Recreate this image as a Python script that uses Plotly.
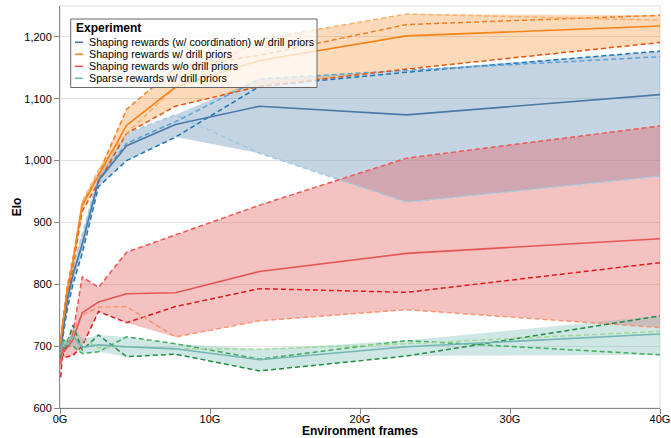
import numpy as np
import plotly.graph_objects as go

# ---------------- data ----------------
frames_g = [0.05, 0.1, 0.17, 0.29, 0.49, 0.86, 1.48, 2.57, 4.44, 7.7, 13.3, 23.1, 40.0]

experiments = [
    "Shaping rewards (w/ coordination) w/ drill priors",
    "Shaping rewards w/ drill priors",
    "Shaping rewards w/o drill priors",
    "Sparse rewards w/ drill priors",
]

coord_seed_a = [690, 700, 712, 730, 760, 800, 850, 958, 1000, 1038, 1120, 1143, 1177]
coord_seed_b = [700, 712, 728, 750, 790, 830, 880, 975, 1044, 1074, 1012, 933, 975]
coord_seed_c = [695, 703, 720, 740, 775, 815, 865, 970, 1028, 1063, 1132, 1146, 1168]

drill_seed_a = [700, 712, 728, 745, 780, 828, 918, 965, 1044, 1088, 1120, 1148, 1191]
drill_seed_b = [712, 725, 740, 762, 798, 842, 930, 978, 1083, 1150, 1170, 1220, 1235]
drill_seed_c = [705, 720, 735, 755, 792, 835, 933, 985, 1044, 1119, 1196, 1237, 1227]

nodrill_seed_a = [690, 700, 705, 695, 700, 720, 812, 795, 852, 880, 928, 1004, 1056]
nodrill_seed_b = [650, 675, 690, 681, 683, 685, 700, 756, 738, 764, 793, 787, 835]
nodrill_seed_c = [672, 690, 700, 700, 710, 725, 750, 763, 764, 715, 741, 759, 730]

sparse_seed_a = [680, 700, 715, 690, 705, 734, 694, 718, 683, 687, 660, 684, 749]
sparse_seed_b = [700, 690, 705, 710, 700, 700, 688, 691, 715, 704, 679, 709, 686]
sparse_seed_c = [695, 710, 700, 705, 710, 715, 712, 697, 699, 696, 695, 704, 724]

x_tick_values = [0, 10, 20, 30, 40]
x_tick_labels = ["0G", "10G", "20G", "30G", "40G"]
y_tick_values = [600, 700, 800, 900, 1000, 1100, 1200]

seed_sets = [
    [coord_seed_a, coord_seed_b, coord_seed_c],
    [drill_seed_a, drill_seed_b, drill_seed_c],
    [nodrill_seed_a, nodrill_seed_b, nodrill_seed_c],
    [sparse_seed_a, sparse_seed_b, sparse_seed_c],
]

# ---------------- styles ----------------
mean_colors = ["#4c78a8", "#f58518", "#e45756", "#72b7b2"]
band_colors = ["rgba(76,120,168,0.32)", "rgba(245,133,24,0.30)",
               "rgba(228,87,86,0.36)", "rgba(114,183,178,0.35)"]
seed_colors = [
    ["#1f77b4", "#9ecae1", "#5aa5d8"],
    ["#e6550d", "#f57e20", "#fdae6b"],
    ["#f4554f", "#e31a1c", "#fc9272"],
    ["#238b45", "#41ab5d", "#a1d99b"],
]
FONT = "Liberation Sans, Arial, Helvetica, sans-serif"

fig = go.Figure()

# bands (min..max over seeds)
for k, seeds in enumerate(seed_sets):
    arr = np.array(seeds, dtype=float)
    lo = arr.min(axis=0)
    hi = arr.max(axis=0)
    fig.add_trace(go.Scatter(x=frames_g, y=lo, mode="lines", line=dict(width=0),
                             showlegend=False, hoverinfo="skip"))
    fig.add_trace(go.Scatter(x=frames_g, y=hi, mode="lines", line=dict(width=0),
                             fill="tonexty", fillcolor=band_colors[k],
                             showlegend=False, hoverinfo="skip"))

# individual seeds (dashed)
for k, seeds in enumerate(seed_sets):
    for j, s in enumerate(seeds):
        fig.add_trace(go.Scatter(x=frames_g, y=s, mode="lines",
                                 line=dict(color=seed_colors[k][j], width=1.5, dash="5px,3px"),
                                 showlegend=False))

# means (solid)
for k, seeds in enumerate(seed_sets):
    mean = np.array(seeds, dtype=float).mean(axis=0)
    fig.add_trace(go.Scatter(x=frames_g, y=mean, mode="lines", name=experiments[k],
                             line=dict(color=mean_colors[k], width=1.6),
                             showlegend=False))

# ---------------- layout ----------------
L, R, T, B = 60, 11, 6, 30
W, H = 671, 438
PW, PH = W - L - R, H - T - B


def px_x(p):
    return (p - L) / PW


def px_y(p):
    return 1 - (p - T) / PH


shapes = [
    dict(type="rect", xref="paper", yref="paper", x0=0, x1=1, y0=0, y1=1,
         line=dict(color="#dddddd", width=1), layer="below"),
    dict(type="rect", xref="paper", yref="paper",
         x0=px_x(70.7), x1=px_x(317), y0=px_y(87.5), y1=px_y(19),
         line=dict(color="#666666", width=1), fillcolor="rgba(255,255,255,0.72)",
         layer="above"),
]
annotations = [
    dict(text="<b>Experiment</b>", xref="paper", yref="paper", x=px_x(74), y=px_y(28),
         xanchor="left", yanchor="middle", showarrow=False,
         font=dict(family=FONT, size=12, color="#000")),
]
item_y = [42.3, 54.3, 66.3, 78.3]
for k, name in enumerate(experiments):
    shapes.append(dict(type="line", xref="paper", yref="paper",
                       x0=px_x(75), x1=px_x(83), y0=px_y(item_y[k]), y1=px_y(item_y[k]),
                       line=dict(color=mean_colors[k], width=1.6), layer="above"))
    annotations.append(dict(text=name, xref="paper", yref="paper", x=px_x(86.5), y=px_y(item_y[k]),
                            xanchor="left", yanchor="middle", showarrow=False,
                            font=dict(family=FONT, size=10.7, color="#000")))

fig.update_layout(
    width=W, height=H,
    margin=dict(l=L, r=R, t=T, b=B, pad=0),
    paper_bgcolor="white", plot_bgcolor="white",
    font=dict(family=FONT, size=11, color="#000"),
    showlegend=False,
    shapes=shapes, annotations=annotations,
    xaxis=dict(range=[0, 40], tickvals=x_tick_values, ticktext=x_tick_labels,
               showgrid=False, zeroline=False,
               showline=True, linecolor="#888888", linewidth=1,
               ticks="outside", ticklen=5, tickcolor="#888888",
               ticklabelstandoff=-4,
               tickfont=dict(family=FONT, size=11, color="#000"),
               title=dict(text="<b>Environment frames</b>", standoff=0,
                          font=dict(family=FONT, size=12, color="#000")),
               automargin=False),
    yaxis=dict(range=[600, 1250], tickvals=y_tick_values, tickformat=",",
               showgrid=True, gridcolor="#e3e3e3", gridwidth=1, zeroline=False,
               showline=True, linecolor="#888888", linewidth=1,
               ticks="outside", ticklen=5, tickcolor="#888888",
               tickfont=dict(family=FONT, size=11, color="#000"),
               title=dict(text="<b>Elo</b>", standoff=0,
                          font=dict(family=FONT, size=12, color="#000")),
               automargin=False),
)

fig.write_html("out.html", config={"displayModeBar": False},
               post_script="document.body.style.margin='0';")
